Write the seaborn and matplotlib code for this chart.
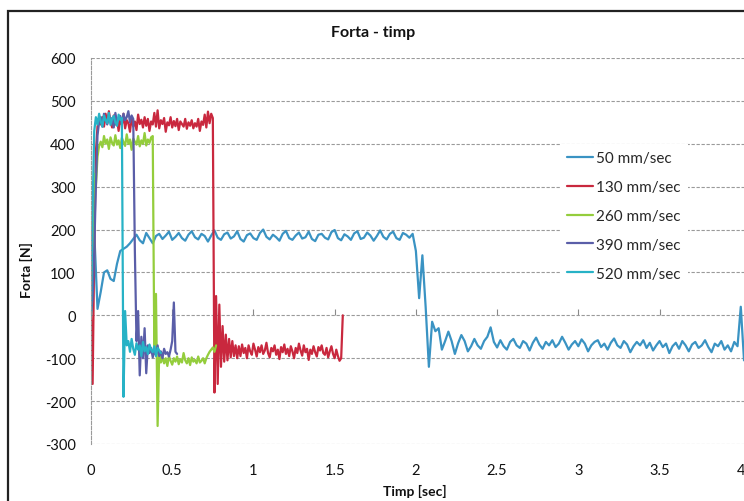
import numpy as np
import pandas as pd
import matplotlib
matplotlib.use("Agg")
import matplotlib.pyplot as plt
from matplotlib.patches import Rectangle
import seaborn as sns

# ---------------- data ----------------
labels = ["50 mm/sec", "130 mm/sec", "260 mm/sec", "390 mm/sec", "520 mm/sec"]
colors = ["#3a93c3", "#c9283e", "#94cd3c", "#5a5ea8", "#27b2c6"]
steps = [0.02, 0.01, 0.01, 0.01, 0.01]   # sampling interval of each record [sec]

f50 = [0, 195, 15, 55, 100, 105, 85, 80, 120, 150, 155, 160, 168, 178, 188, 175, 168, 192, 180, 168, 185,
       190, 178, 186, 195, 176, 183, 192, 180, 174, 188,
       196, 182, 177, 190, 185, 172, 186, 198, 181, 176,
       189, 193, 179, 184, 196, 178, 172, 187, 191, 180,
       176, 192, 200, 183, 177, 188, 182, 174, 190, 197,
       180, 176, 186, 193, 179, 182, 195, 178, 173, 188,
       190, 181, 177, 194, 199, 180, 175, 189, 184, 176,
       191, 196, 178, 181, 193, 186, 174, 185, 198, 183,
       177, 190, 195, 180, 176, 192, 188, 181, 190,
       150, 40, 140, 20, -120, -15, -37, -30, -80, -60, -38, -60, -90, -65, -46,
       -60, -84, -72, -55, -70, -78, -60, -50, -28, -62, -75,
       -58, -72, -80, -62, -55, -70, -76, -60, -66, -82,
       -64, -52, -68, -78, -62, -70, -58, -74, -66, -50,
       -64, -80, -68, -60, -72, -56, -66, -84, -70, -62,
       -58, -74, -66, -80, -64, -54, -70, -76, -60, -68,
       -86, -72, -62, -70, -58, -76, -64, -82, -70, -60,
       -74, -66, -88, -72, -64, -78, -60, -70, -84, -68,
       -62, -76, -70, -58, -74, -86, -66, -72, -60, -80,
       -70, -84, -62, -72,
       20, -105]

f130 = [0, -160, 150, 380, 440, 455, 445,
        462, 440, 470, 448, 476, 452, 438, 466, 445, 458, 430, 460, 444, 470, 436, 455, 448, 428,
        462, 440, 452, 432, 468, 446, 456, 438, 462, 442, 458, 430, 452, 445, 472, 440, 478, 436,
        455, 446, 460, 428, 450, 443, 462, 438, 453, 441, 458, 432, 452, 446, 440, 458, 435, 450,
        442, 455, 436, 448, 440, 458, 430, 452, 444, 468, 438, 475, 448, 470,
        460, -180, 45, -160, 25, -120, -25, -108, -45, -105, -55, -98, -60, -95, -70, -100,
        -72, -95, -68, -88, -76, -100, -70, -84, -92, -66, -80, -96, -74, -86, -70, -90, -82,
        -64, -88, -98, -76, -84, -70, -92, -80, -102, -74, -86, -68, -90, -78, -95, -72, -84,
        -100, -76, -88, -66, -82, -94, -70, -86, -78, -104, -80, -90, -72, -86, -96, -74, -82,
        -70, -88, -92, -76, -98, -84, -72, -90, -100, -80, -95, -106,
        -100, 0]

f260 = [0, 120, 330, 300, 370, 395,
        405, 392, 418, 400, 410, 388, 415, 402, 396, 420, 398, 408, 390, 414, 404, 395,
        422, 400, 410, 386, 412, 405, 398, 418, 394, 408, 400, 425, 396, 410, 402, 415,
        418, -90, 50, -258, -85, -110,
        -98, -112, -100, -118, -95, -106, -115, -100, -108, -96, -114, -102, -110, -88,
        -105, -112, -100, -116, -98, -108, -104, -112, -96, -110, -106, -100, -112,
        -100, -92, -85, -80, -75, -85, -70]

f390 = [0, 40, 150, 300, 420,
        450, 462, 440, 470, 455, 445, 468, 452, 460, 438, 472, 450, 458, 465, 445, 470,
        455, 462, 476, 450, 466, 458,
        150, -60, 10, -140, -50, -100, -30, -135, -70,
        -88, -76, -98, -82, -92, -70, -95, -84, -100, -78, -90, -86, -96, -80,
        -60, 30, -85, -90]

f520 = [0, 250, 430,
        462, 445, 470, 452, 440, 466, 455, 448, 472, 444, 458, 465, 450, 442, 468, 456, 460,
        -190, 10, -70,
        -60, -85, -55, -78, -92, -65, -80, -70, -95, -62, -84, -74, -90, -68, -80, -86,
        -72, -95, -76, -82, -88]

series_values = [f50, f130, f260, f390, f520]

ytick_values = [-300, -200, -100, 0, 100, 200, 300, 400, 500, 600]
xtick_values = [0, 0.5, 1, 1.5, 2, 2.5, 3, 3.5, 4]
xtick_labels = ["0", "0.5", "1", "1.5", "2", "2.5", "3", "3.5", "4"]

# ---------------- build long-form table ----------------
frames = []
for name, dt, vals in zip(labels, steps, series_values):
    t = np.round(np.arange(len(vals)) * dt, 4)
    frames.append(pd.DataFrame({"Timp": t, "Forta": vals, "serie": name}))
df = pd.concat(frames, ignore_index=True)

# ---------------- plotting ----------------
sns.set_style("white")
plt.rcParams["font.family"] = ["Lato", "DejaVu Sans"]

fig = plt.figure(figsize=(7.44, 5.02), dpi=100)
ax = fig.add_axes([91 / 744, (502 - 445) / 502, 731 / 744, 386 / 502])

sns.lineplot(data=df, x="Timp", y="Forta", hue="serie", hue_order=labels,
             palette=dict(zip(labels, colors)), estimator=None, sort=False,
             linewidth=1.6, ax=ax)

ax.set_xlim(0, 4.5)
ax.set_ylim(-300, 600)
ax.set_yticks(ytick_values)
ax.set_yticklabels([str(v) for v in ytick_values])
ax.set_xticks(xtick_values)
ax.set_xticklabels(xtick_labels)
ax.tick_params(axis="both", length=0, labelsize=10.5, colors="#111111")
ax.tick_params(axis="x", pad=14)
ax.tick_params(axis="y", pad=11)

ax.yaxis.grid(True, linestyle=(0, (3, 1.5)), color="#9a9a9a", linewidth=0.8)
ax.xaxis.grid(False)
for s in ["top", "right", "bottom"]:
    ax.spines[s].set_visible(False)
ax.spines["left"].set_color("#9a9a9a")
ax.spines["left"].set_linestyle((0, (3, 1.5)))
ax.spines["left"].set_linewidth(0.8)

# small tick marks on the zero line
sec = ax.secondary_xaxis(1 / 3)
sec.set_xticks(xtick_values)
sec.tick_params(axis="x", direction="in", length=4, color="#8a8a8a",
                labelbottom=False, labeltop=False)
for s in sec.spines.values():
    s.set_visible(False)

ax.set_xlabel("Timp [sec]", fontsize=10, fontweight="bold", color="#111111")
ax.set_ylabel("Forta [N]", fontsize=10, fontweight="bold", color="#111111")
ax.xaxis.set_label_coords((415 - 91) / 731, (445 - 485) / 386)
ax.yaxis.set_label_coords((33 - 91) / 731, (445 - 270) / 386)

fig.text(373 / 744, (502 - 33) / 502, "Forta - timp", ha="center", va="center",
         fontsize=11.5, fontweight="bold", color="#111111")

handles, _ = ax.get_legend_handles_labels()
leg = ax.legend(handles[:5], labels, loc="upper left",
                bbox_to_anchor=(552 / 744, (502 - 137) / 502), bbox_transform=fig.transFigure,
                fontsize=11, frameon=True, facecolor="white", edgecolor="none", framealpha=1,
                handlelength=1.7, handletextpad=0.2, labelspacing=0.97, borderpad=0.5,
                fancybox=False)
for line in leg.get_lines():
    line.set_linewidth(1.6)

# chart-area border
fig.patches.append(Rectangle((8 / 744, -0.5), 2, (502 - 12) / 502 + 0.5,
                             transform=fig.transFigure, fill=False,
                             edgecolor="#222222", linewidth=1.6))

fig.savefig("out.png", dpi=100)
